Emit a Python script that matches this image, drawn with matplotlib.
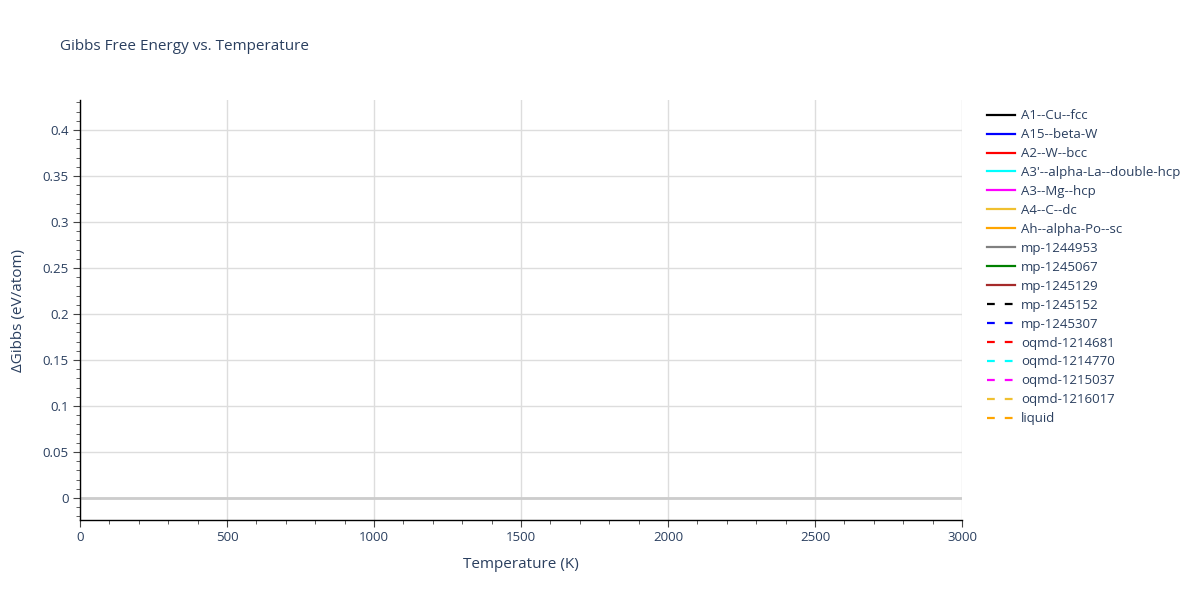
import matplotlib
matplotlib.use("Agg")
import matplotlib.pyplot as plt
from matplotlib.ticker import MultipleLocator

plt.rcParams['font.family'] = ['Open Sans', 'DejaVu Sans']

# Series shown in the legend (no visible data within the plotted range)
series_names = ["A1--Cu--fcc", "A15--beta-W", "A2--W--bcc", "A3'--alpha-La--double-hcp",
                "A3--Mg--hcp", "A4--C--dc", "Ah--alpha-Po--sc", "mp-1244953",
                "mp-1245067", "mp-1245129", "mp-1245152", "mp-1245307",
                "oqmd-1214681", "oqmd-1214770", "oqmd-1215037", "oqmd-1216017", "liquid"]
series_colors = ["black", "blue", "red", "cyan", "magenta", "#f0c030", "orange", "grey",
                 "green", "brown", "black", "blue", "red", "cyan", "magenta", "#f0c030", "orange"]
series_dashed = [False] * 10 + [True] * 7
temperature = []          # K (no points visible)
delta_gibbs = [[] for _ in series_names]  # eV/atom

text_color = "#2a3f5f"

fig = plt.figure(figsize=(12, 6), dpi=100)
ax = fig.add_axes([80/1200, 80/600, (962-80)/1200, (520-100)/600])

handles = []
for name, col, dashed, vals in zip(series_names, series_colors, series_dashed, delta_gibbs):
    h, = ax.plot(temperature, vals, color=col, lw=1.6,
                 linestyle=(0, (3.5, 4.5)) if dashed else "-", label=name)
    handles.append(h)

ax.set_xlim(0, 3000)
ax.set_ylim(-0.0239, 0.4326)
ax.xaxis.set_major_locator(MultipleLocator(500))
ax.xaxis.set_minor_locator(MultipleLocator(100))
ax.yaxis.set_major_locator(MultipleLocator(0.05))
ax.yaxis.set_minor_locator(MultipleLocator(0.01))
ax.set_yticks([0, 0.05, 0.1, 0.15, 0.2, 0.25, 0.3, 0.35, 0.4])
ax.set_yticklabels(["0", "0.05", "0.1", "0.15", "0.2", "0.25", "0.3", "0.35", "0.4"])

ax.grid(True, which="major", color="#dddddd", lw=1)
ax.axhline(0, color="#cccccc", lw=2, zorder=1.5)
ax.set_axisbelow(True)

for s in ["top", "right"]:
    ax.spines[s].set_visible(False)
for s in ["left", "bottom"]:
    ax.spines[s].set_color("black")
    ax.spines[s].set_linewidth(1)

ax.tick_params(which="major", direction="out", length=5, color="#444444",
               labelsize=9.5, labelcolor=text_color, pad=3)
ax.tick_params(which="minor", direction="out", length=3, color="#444444")

ax.set_xlabel("Temperature (K)", fontsize=11, color=text_color, labelpad=9)
ax.set_ylabel("ΔGibbs (eV/atom)", fontsize=11, color=text_color, labelpad=12)

fig.text(60/1200, 1 - 46/600, "Gibbs Free Energy vs. Temperature", fontsize=11,
         color=text_color, va="center", ha="left")

leg = fig.legend(handles=handles, loc="upper left", bbox_to_anchor=(982/1200, 1 - 104/600),
                 frameon=False, fontsize=9.5, labelcolor=text_color, handlelength=2.1,
                 handletextpad=0.45, labelspacing=0.45, borderaxespad=0)

fig.savefig("out.png", dpi=100)
